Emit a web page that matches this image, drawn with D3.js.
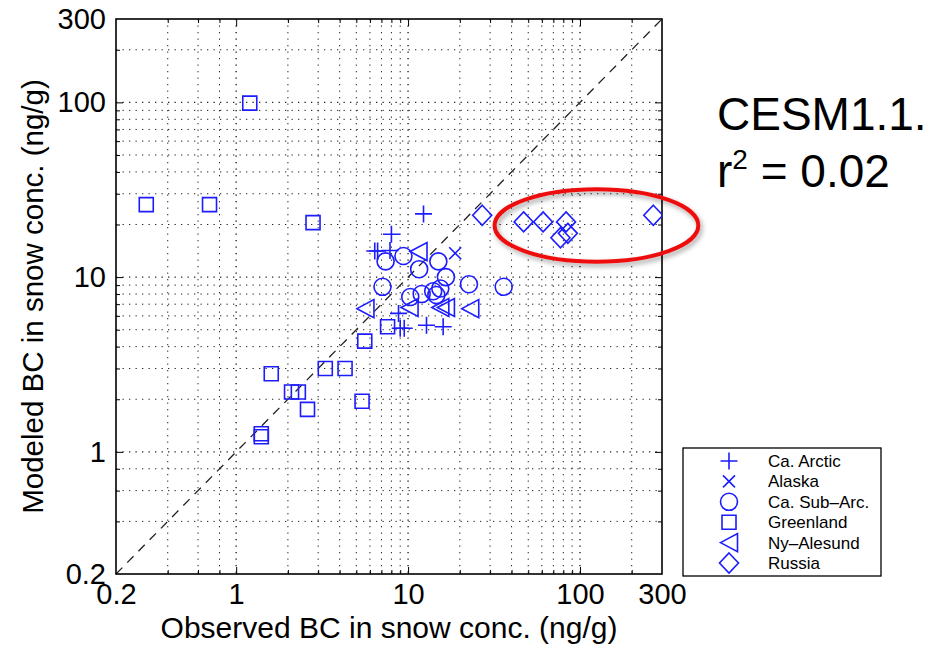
<!DOCTYPE html>
<html>
<head>
<meta charset="utf-8">
<script src="https://cdn.jsdelivr.net/npm/d3@7"></script>
<style>
  html, body { margin: 0; padding: 0; background: #fff; }
  svg { display: block; font-family: "Liberation Sans", Arial, Helvetica, sans-serif; }
</style>
</head>
<body>
<svg id="chart" width="939" height="645"></svg>
<script>
// Black carbon in snow: observed vs modeled (ng/g), by region
const tickValues = [0.2, 1, 10, 100, 300];
const tickLabels = ["0.2", "1", "10", "100", "300"];
const gridValues = [0.4, 0.6, 0.8, 1, 2, 3, 4, 5, 6, 7, 8, 9, 10, 20, 30, 40, 50, 60, 70, 80, 90, 100, 200];
const majorTicks = [1, 10, 100];

const caArcticObs = [12.3, 8.0, 6.4, 6.65, 7.85, 8.8, 9.0, 9.5, 12.8, 16.0];
const caArcticMod = [23.0, 17.6, 14.1, 14.1, 14.2, 6.2, 5.1, 5.1, 5.3, 5.2];

const alaskaObs = [18.8];
const alaskaMod = [13.7];

const caSubArcObs = [7.4, 9.4, 11.6, 15.0, 16.6, 22.6, 36.0, 7.1, 10.3, 12.0, 14.0, 14.6, 15.4];
const caSubArcMod = [12.3, 13.2, 11.1, 12.3, 10.0, 9.1, 8.8, 8.8, 7.7, 8.0, 8.3, 7.9, 8.6];

const greenlandObs = [1.2, 0.3, 0.7, 2.8, 1.6, 2.1, 2.3, 2.6, 1.4, 1.4, 3.3, 4.3, 5.4, 5.6, 7.6];
const greenlandMod = [99, 26, 26, 20.5, 2.8, 2.2, 2.2, 1.75, 1.27, 1.22, 3.0, 3.0, 1.95, 4.3, 5.2];

const nyAlesundObs = [11.5, 5.65, 10.2, 15.4, 16.6, 23.0];
const nyAlesundMod = [14.0, 6.6, 6.7, 6.7, 6.7, 6.6];

const russiaObs = [27, 47, 61, 83, 85, 77, 267];
const russiaMod = [22.6, 20.7, 20.7, 20.7, 17.8, 16.8, 22.6];

const seriesNames = ["Ca. Arctic", "Alaska", "Ca. Sub\u2013Arc.", "Greenland", "Ny\u2013Alesund", "Russia"];

const markerColor = "#1c1cff";

// marker outlines, centred on the point
const markerPaths = {
  plus: "M-8.5,0H8.5M0,-8.5V8.5",
  cross: "M-6,-6L6,6M-6,6L6,-6",
  circle: "M8.5,0A8.5,8.5 0 1,1 -8.5,0A8.5,8.5 0 1,1 8.5,0Z",
  square: "M-7,-7H7V7H-7Z",
  triangle: "M-8.5,0L8.5,-9L8.5,9Z",
  diamond: "M0,-10L9.5,0L0,10L-9.5,0Z"
};

const series = [
  { name: seriesNames[0], obs: caArcticObs, mod: caArcticMod, shape: "plus" },
  { name: seriesNames[1], obs: alaskaObs, mod: alaskaMod, shape: "cross" },
  { name: seriesNames[2], obs: caSubArcObs, mod: caSubArcMod, shape: "circle" },
  { name: seriesNames[3], obs: greenlandObs, mod: greenlandMod, shape: "square" },
  { name: seriesNames[4], obs: nyAlesundObs, mod: nyAlesundMod, shape: "triangle" },
  { name: seriesNames[5], obs: russiaObs, mod: russiaMod, shape: "diamond" }
];

const svg = d3.select("#chart");
svg.append("rect").attr("width", 939).attr("height", 645).attr("fill", "#fff");

const plot = { left: 116, right: 662, top: 19, bottom: 574 };
const x = d3.scaleLog().domain([0.2, 300]).range([plot.left, plot.right]);
const y = d3.scaleLog().domain([0.2, 300]).range([plot.bottom, plot.top]);

const defs = svg.append("defs");
defs.append("clipPath").attr("id", "plotClip")
  .append("rect")
  .attr("x", plot.left).attr("y", plot.top)
  .attr("width", plot.right - plot.left).attr("height", plot.bottom - plot.top);

const shadow = defs.append("filter").attr("id", "softShadow")
  .attr("x", "-20%").attr("y", "-30%").attr("width", "140%").attr("height", "160%");
shadow.append("feDropShadow")
  .attr("dx", 2).attr("dy", 3).attr("stdDeviation", 2.5)
  .attr("flood-color", "#000").attr("flood-opacity", 0.35);

// dotted grid
const grid = svg.append("g").attr("class", "grid");
grid.selectAll("line.gx").data(gridValues).join("line")
  .attr("x1", d => x(d)).attr("x2", d => x(d))
  .attr("y1", plot.top).attr("y2", plot.bottom)
  .attr("stroke", "#222").attr("stroke-width", d => majorTicks.includes(d) ? 1.4 : 1)
  .attr("stroke-dasharray", "1.3,5.2");
grid.selectAll("line.gy").data(gridValues).join("line")
  .attr("y1", d => y(d)).attr("y2", d => y(d))
  .attr("x1", plot.left).attr("x2", plot.right)
  .attr("stroke", "#222").attr("stroke-width", d => majorTicks.includes(d) ? 1.4 : 1)
  .attr("stroke-dasharray", "1.3,5.2");

// 1:1 line
svg.append("line")
  .attr("x1", x(0.2)).attr("y1", y(0.2))
  .attr("x2", x(300)).attr("y2", y(300))
  .attr("stroke", "#222").attr("stroke-width", 1.3)
  .attr("stroke-dasharray", "9,7");

// inward ticks on all four sides
const minorTicks = gridValues.filter(v => !majorTicks.includes(v));
function tickAxis(axisFn, scale, vals, size, transform) {
  const g = svg.append("g").attr("transform", transform)
    .call(axisFn(scale).tickValues(vals).tickSize(-size).tickFormat(""));
  g.select(".domain").remove();
  g.selectAll(".tick line").attr("stroke", "#000").attr("stroke-width", 1);
  return g;
}
tickAxis(d3.axisBottom, x, majorTicks, 7, `translate(0,${plot.bottom})`);
tickAxis(d3.axisBottom, x, minorTicks, 4, `translate(0,${plot.bottom})`);
tickAxis(d3.axisTop, x, majorTicks, 7, `translate(0,${plot.top})`);
tickAxis(d3.axisTop, x, minorTicks, 4, `translate(0,${plot.top})`);
tickAxis(d3.axisLeft, y, majorTicks, 7, `translate(${plot.left},0)`);
tickAxis(d3.axisLeft, y, minorTicks, 4, `translate(${plot.left},0)`);
tickAxis(d3.axisRight, y, majorTicks, 7, `translate(${plot.right},0)`);
tickAxis(d3.axisRight, y, minorTicks, 4, `translate(${plot.right},0)`);

// tick labels
const labelFont = 29;
const xLab = svg.append("g").attr("transform", `translate(0,${plot.bottom})`)
  .call(d3.axisBottom(x).tickValues(tickValues).tickSize(0).tickPadding(9)
    .tickFormat((d, i) => tickLabels[i]));
xLab.select(".domain").remove();
xLab.selectAll("text").attr("font-size", labelFont).attr("fill", "#000")
  .attr("font-family", "Liberation Sans, Arial, sans-serif");

const yLab = svg.append("g").attr("transform", `translate(${plot.left},0)`)
  .call(d3.axisLeft(y).tickValues(tickValues).tickSize(0).tickPadding(10)
    .tickFormat((d, i) => tickLabels[i]));
yLab.select(".domain").remove();
yLab.selectAll("text").attr("font-size", labelFont).attr("fill", "#000")
  .attr("font-family", "Liberation Sans, Arial, sans-serif");

// axis box
svg.append("rect")
  .attr("x", plot.left).attr("y", plot.top)
  .attr("width", plot.right - plot.left).attr("height", plot.bottom - plot.top)
  .attr("fill", "none").attr("stroke", "#000").attr("stroke-width", 1.6);

// axis titles
svg.append("text")
  .attr("x", (plot.left + plot.right) / 2).attr("y", 638)
  .attr("text-anchor", "middle").attr("font-size", 30).attr("fill", "#000")
  .text("Observed BC in snow conc. (ng/g)");
svg.append("text")
  .attr("transform", `translate(43,${(plot.top + plot.bottom) / 2}) rotate(-90)`)
  .attr("text-anchor", "middle").attr("font-size", 29.5).attr("fill", "#000")
  .text("Modeled BC in snow conc. (ng/g)");

// points
const pts = svg.append("g").attr("clip-path", "url(#plotClip)");
series.forEach(s => {
  pts.selectAll(null).data(s.obs.map((o, i) => [o, s.mod[i]])).join("path")
    .attr("d", markerPaths[s.shape])
    .attr("transform", d => `translate(${x(d[0])},${y(d[1])})`)
    .attr("fill", "none").attr("stroke", markerColor).attr("stroke-width", 1.6);
});

// legend
const legend = svg.append("g");
legend.append("rect")
  .attr("x", 683).attr("y", 448).attr("width", 198).attr("height", 128)
  .attr("fill", "#fff").attr("stroke", "#000").attr("stroke-width", 1.3);
series.forEach((s, i) => {
  const cy = 461 + i * 20.4;
  legend.append("path").attr("d", markerPaths[s.shape])
    .attr("transform", `translate(729,${cy})`)
    .attr("fill", "none").attr("stroke", markerColor).attr("stroke-width", 1.6);
  legend.append("text").attr("x", 768).attr("y", cy + 6)
    .attr("font-size", 17).attr("fill", "#000").text(s.name);
});

// model label and correlation
svg.append("text").attr("x", 717).attr("y", 130)
  .attr("font-size", 46).attr("fill", "#000").text("CESM1.1.");
const r2 = svg.append("text").attr("x", 717).attr("y", 187)
  .attr("font-size", 46).attr("fill", "#000");
r2.append("tspan").text("r");
r2.append("tspan").attr("font-size", 28).attr("dy", -18).text("2");
r2.append("tspan").attr("dy", 18).text(" = 0.02");

// highlight around the cluster of high Russian observations
const rusHigh = russiaObs.map((o, i) => [x(o), y(russiaMod[i]), o]).filter(d => d[2] > 40);
const ex = d3.extent(rusHigh, d => d[0]);
const ey = d3.extent(rusHigh, d => d[1]);
svg.append("ellipse")
  .attr("cx", (ex[0] + ex[1]) / 2 + 8).attr("cy", (ey[0] + ey[1]) / 2 - 1)
  .attr("rx", (ex[1] - ex[0]) / 2 + 37).attr("ry", (ey[1] - ey[0]) / 2 + 25)
  .attr("fill", "none").attr("stroke", "#ee1111").attr("stroke-width", 4)
  .attr("filter", "url(#softShadow)");
</script>
</body>
</html>
